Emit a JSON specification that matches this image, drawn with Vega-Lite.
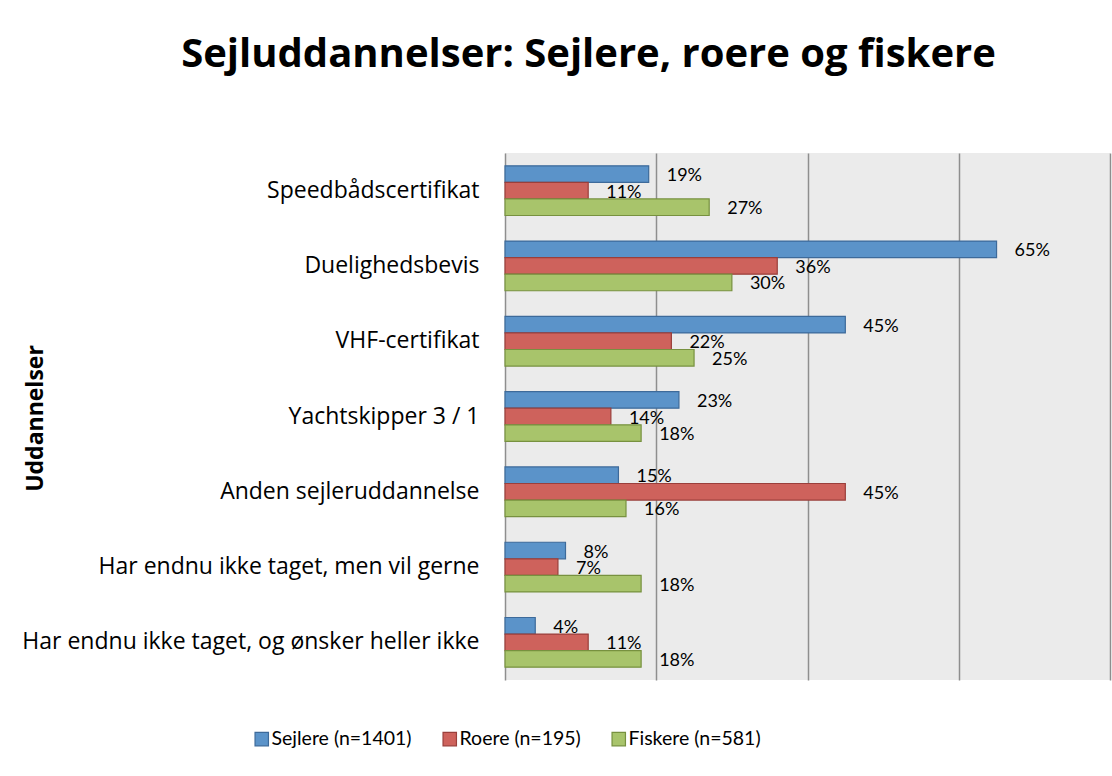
{
  "$schema": "https://vega.github.io/schema/vega-lite/v6.json",
  "autosize": "none",
  "width": 605,
  "height": 527,
  "padding": {"left": 505, "top": 153, "right": 2, "bottom": 96},
  "background": "white",
  "title": {
    "text": "Sejluddannelser: Sejlere, roere og fiskere",
    "font": "Open Sans",
    "fontSize": 40,
    "fontWeight": "bold",
    "color": "black",
    "anchor": "middle",
    "frame": "group",
    "dx": -219,
    "offset": 78
  },
  "data": {
    "values": [
      {"kategori": "Speedbådscertifikat", "gruppe": "Sejlere (n=1401)", "andel": 0.19},
      {"kategori": "Speedbådscertifikat", "gruppe": "Roere (n=195)", "andel": 0.11},
      {"kategori": "Speedbådscertifikat", "gruppe": "Fiskere (n=581)", "andel": 0.27},
      {"kategori": "Duelighedsbevis", "gruppe": "Sejlere (n=1401)", "andel": 0.65},
      {"kategori": "Duelighedsbevis", "gruppe": "Roere (n=195)", "andel": 0.36},
      {"kategori": "Duelighedsbevis", "gruppe": "Fiskere (n=581)", "andel": 0.30},
      {"kategori": "VHF-certifikat", "gruppe": "Sejlere (n=1401)", "andel": 0.45},
      {"kategori": "VHF-certifikat", "gruppe": "Roere (n=195)", "andel": 0.22},
      {"kategori": "VHF-certifikat", "gruppe": "Fiskere (n=581)", "andel": 0.25},
      {"kategori": "Yachtskipper 3 / 1", "gruppe": "Sejlere (n=1401)", "andel": 0.23},
      {"kategori": "Yachtskipper 3 / 1", "gruppe": "Roere (n=195)", "andel": 0.14},
      {"kategori": "Yachtskipper 3 / 1", "gruppe": "Fiskere (n=581)", "andel": 0.18},
      {"kategori": "Anden sejleruddannelse", "gruppe": "Sejlere (n=1401)", "andel": 0.15},
      {"kategori": "Anden sejleruddannelse", "gruppe": "Roere (n=195)", "andel": 0.45},
      {"kategori": "Anden sejleruddannelse", "gruppe": "Fiskere (n=581)", "andel": 0.16},
      {"kategori": "Har endnu ikke taget, men vil gerne", "gruppe": "Sejlere (n=1401)", "andel": 0.08},
      {"kategori": "Har endnu ikke taget, men vil gerne", "gruppe": "Roere (n=195)", "andel": 0.07},
      {"kategori": "Har endnu ikke taget, men vil gerne", "gruppe": "Fiskere (n=581)", "andel": 0.18},
      {"kategori": "Har endnu ikke taget, og ønsker heller ikke", "gruppe": "Sejlere (n=1401)", "andel": 0.04},
      {"kategori": "Har endnu ikke taget, og ønsker heller ikke", "gruppe": "Roere (n=195)", "andel": 0.11},
      {"kategori": "Har endnu ikke taget, og ønsker heller ikke", "gruppe": "Fiskere (n=581)", "andel": 0.18}
    ]
  },
  "encoding": {
    "y": {
      "field": "kategori",
      "type": "nominal",
      "sort": null,
      "scale": {"paddingInner": 0.34, "paddingOuter": 0.17},
      "axis": {
        "title": "Uddannelser",
        "titleFont": "Open Sans",
        "titleFontSize": 23,
        "titleFontWeight": "bold",
        "titleColor": "black",
        "titleAngle": -90,
        "titleAlign": "center",
        "titleBaseline": "middle",
        "titleX": -470,
        "titleY": 265,
        "labelFont": "Open Sans",
        "labelFontSize": 23,
        "labelColor": "black",
        "labelPadding": 26,
        "labelLimit": 600,
        "ticks": false,
        "domain": false,
        "grid": false
      }
    },
    "yOffset": {
      "field": "gruppe",
      "type": "nominal",
      "sort": ["Sejlere (n=1401)", "Roere (n=195)", "Fiskere (n=581)"],
      "scale": {"paddingInner": 0, "paddingOuter": 0}
    },
    "x": {
      "field": "andel",
      "type": "quantitative",
      "scale": {"domain": [0, 0.8], "nice": false, "zero": true},
      "axis": {
        "title": null,
        "labels": false,
        "ticks": false,
        "domain": false,
        "grid": true,
        "gridColor": "#8e8e8e",
        "gridWidth": 1.5,
        "values": [0, 0.2, 0.4, 0.6, 0.8]
      }
    }
  },
  "layer": [
    {
      "mark": {"type": "bar", "strokeWidth": 1.2},
      "encoding": {
        "color": {
          "field": "gruppe",
          "type": "nominal",
          "scale": {
            "domain": ["Sejlere (n=1401)", "Roere (n=195)", "Fiskere (n=581)"],
            "range": ["#5B93C9", "#CE625C", "#A8C46B"]
          },
          "legend": {
            "title": null,
            "orient": "none",
            "legendX": -253,
            "legendY": 576,
            "direction": "horizontal",
            "columns": 3,
            "columnPadding": 28,
            "labelFont": "Lato",
            "labelFontSize": 19.5,
            "labelColor": "black",
            "labelOffset": 0,
            "symbolType": "square",
            "symbolSize": 180,
            "symbolStrokeWidth": 1.2
          }
        },
        "stroke": {
          "field": "gruppe",
          "type": "nominal",
          "scale": {
            "domain": ["Sejlere (n=1401)", "Roere (n=195)", "Fiskere (n=581)"],
            "range": ["#3D6A9A", "#9A3F3B", "#77913F"]
          },
          "legend": null
        }
      }
    },
    {
      "mark": {"type": "text", "align": "left", "baseline": "middle", "dx": 18, "dy": 2, "font": "Lato", "fontSize": 18, "color": "black"},
      "encoding": {
        "text": {"field": "andel", "type": "quantitative", "format": ".0%"}
      }
    }
  ],
  "config": {
    "view": {"fill": "#EBEBEB", "stroke": null}
  }
}
